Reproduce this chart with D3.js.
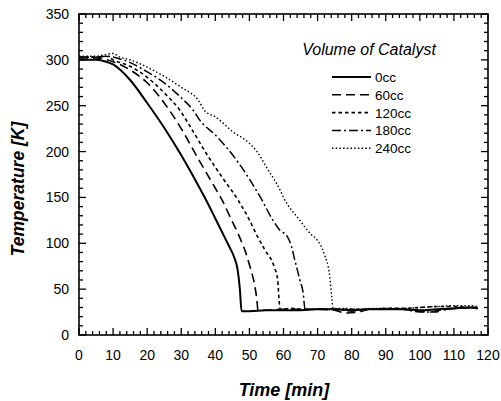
<!DOCTYPE html>
<html><head><meta charset="utf-8">
<script src="https://cdn.jsdelivr.net/npm/d3@7"></script>
<style>body{margin:0;background:#fff}svg{display:block}text{font-family:"Liberation Sans",Arial,sans-serif;fill:#000}</style>
</head><body>
<svg id="c" width="501" height="401"></svg>
<script>
const seriesNames = ["0cc","60cc","120cc","180cc","240cc"];
const legendTitle = "Volume of Catalyst";
const xTicks = [0,10,20,30,40,50,60,70,80,90,100,110,120];
const yTicks = [0,50,100,150,200,250,300,350];

const s0cc = [[0,300],[5,300],[8,298],[10,295],[15,278],[20,253],[25,226],[30,196],[35,163],[38,142],[40,127],[42,112],[44,97],[45.5,85],[46.5,72],[47.2,50],[47.7,26],[50,26],[55,27],[60,27],[65,27],[70,28],[75,28],[80,27],[85,28],[90,28],[95,28],[100,27],[105,28],[110,29],[115,30],[117,29]];
const s60cc = [[0,302],[5,302],[10,298],[15,289],[20,275],[25,253],[30,225],[35,192],[40,160],[42,147],[44.3,129],[47.2,106],[49,89],[50.2,74],[51.5,55],[52.2,38],[52.5,27],[55,27],[60,28],[65,28],[70,28],[75,27],[78,24],[82,25],[85,28],[90,29],[95,28],[100,26],[104,25],[108,28],[112,30],[117,30]];
const s120cc = [[0,303],[5,303],[8,304],[10,300],[15,293],[20,281],[25,264],[29.6,245],[33,225],[37,200],[42,172],[46.7,147],[50.2,124],[52,110],[54.5,93],[57.3,74],[58.3,60],[58.7,38],[59,28],[62,29],[66,28],[70,28],[75,28],[80,28],[85,28],[90,29],[95,29],[100,30],[105,31],[110,31],[115,30],[117,30]];
const s180cc = [[0,303],[5,303],[8,304],[10,303],[12,301],[15,297],[20,287],[25,275],[29.6,260],[33.5,245],[35.5,234],[40,218],[44.3,200],[50,170],[53.7,147],[56.6,127],[59,114],[61,108],[62.3,97],[63.3,82],[64.8,60],[65.8,45],[66.3,28],[70,28],[75,28],[80,26],[85,28],[90,28],[95,28],[98,26],[102,25],[106,27],[110,29],[115,30],[117,29]];
const s240cc = [[0,304],[5,304],[8,306],[10,307],[12,303],[15,300],[20,292],[25,282],[30,270],[35,256],[37,244],[40,238],[45,222],[50,209],[52.2,200],[55,183],[59,158],[60,150],[64.8,125],[68,110],[70,103],[72,88],[73.6,63],[74.2,40],[74.5,29],[78,29],[82,28],[86,29],[90,29],[95,29],[100,30],[105,31],[110,32],[115,32],[117,31]];
const allSeries = [s0cc,s60cc,s120cc,s180cc,s240cc];
const dashes = [null,"9,5","3.5,3","9,3,2,3","1.5,2.2"];
const widths = [2,1.6,1.6,1.5,1.4];

const svg = d3.select("#c");
const L=79,R=488,T=14,B=335;
const x = d3.scaleLinear().domain([0,120]).range([L,R]);
const y = d3.scaleLinear().domain([0,350]).range([B,T]);

const g = svg.append("g").attr("stroke","#000").attr("stroke-width",1.3);
d3.range(0,121,2).forEach(v=>{
  const major = v%10===0, len = major?7:4;
  g.append("line").attr("x1",x(v)).attr("x2",x(v)).attr("y1",B).attr("y2",B-len);
  g.append("line").attr("x1",x(v)).attr("x2",x(v)).attr("y1",T).attr("y2",T+len);
});
d3.range(0,351,10).forEach(v=>{
  const major = v%50===0, len = major?7:4;
  g.append("line").attr("y1",y(v)).attr("y2",y(v)).attr("x1",L).attr("x2",L+len);
  g.append("line").attr("y1",y(v)).attr("y2",y(v)).attr("x1",R).attr("x2",R-len);
});
svg.append("rect").attr("x",L).attr("y",T).attr("width",R-L).attr("height",B-T)
  .attr("fill","none").attr("stroke","#000").attr("stroke-width",1.6);

svg.append("g").selectAll("text").data(xTicks).join("text")
  .attr("x",d=>x(d)).attr("y",360).attr("text-anchor","middle").attr("font-size",14).text(d=>d);
svg.append("g").selectAll("text").data(yTicks).join("text")
  .attr("x",69).attr("y",d=>y(d)+5).attr("text-anchor","end").attr("font-size",14).text(d=>d);

svg.append("text").attr("x",284).attr("y",396).attr("text-anchor","middle")
  .attr("font-size",18).attr("font-weight","bold").attr("font-style","italic").text("Time [min]");
svg.append("text").attr("transform","translate(24,189) rotate(-90)").attr("text-anchor","middle")
  .attr("font-size",17.5).attr("font-weight","bold").attr("font-style","italic").text("Temperature [K]");

const line = d3.line().x(d=>x(d[0])).y(d=>y(d[1])).curve(d3.curveMonotoneX);
allSeries.forEach((s,i)=>{
  svg.append("path").datum(s).attr("d",line).attr("fill","none").attr("stroke","#000")
    .attr("stroke-width",widths[i]).attr("stroke-dasharray",dashes[i]);
});

svg.append("text").attr("x",369).attr("y",55).attr("text-anchor","middle")
  .attr("font-size",16).attr("font-style","italic").text(legendTitle);
seriesNames.forEach((n,i)=>{
  const yy = 77 + i*17.8;
  svg.append("line").attr("x1",332).attr("x2",371).attr("y1",yy).attr("y2",yy)
    .attr("stroke","#000").attr("stroke-width",widths[i]).attr("stroke-dasharray",dashes[i]);
  svg.append("text").attr("x",375).attr("y",yy+5).attr("font-size",13.5).text(n);
});
</script>
</body></html>
